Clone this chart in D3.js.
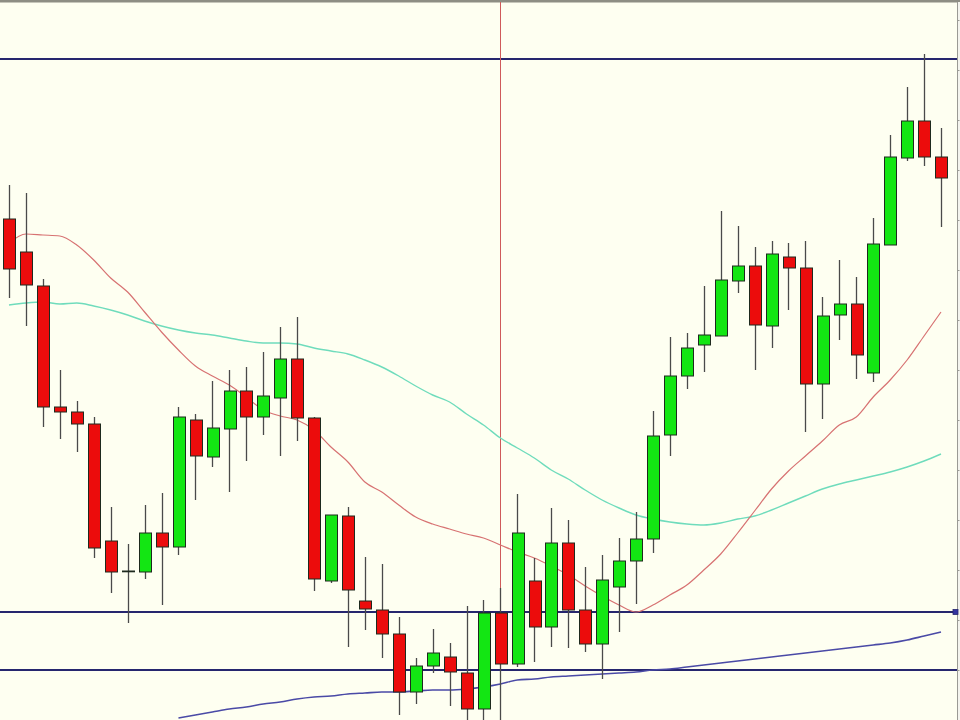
<!DOCTYPE html>
<html>
<head>
<meta charset="utf-8">
<script src="https://cdn.jsdelivr.net/npm/d3@7"></script>
<style>
html,body{margin:0;padding:0;background:#fefff1;}
svg{display:block;}
</style>
</head>
<body>
<svg id="chart" width="960" height="720"></svg>
<script>
// ---- data (price) ----
const open = [1.3501,1.3468,1.3434,1.3313,1.3308,1.3296,1.3179,1.3149,1.3148,1.3187,
  1.3173,1.3300,1.3263,1.3291,1.3329,1.3303,1.3322,1.3361,1.3302,1.3139,
  1.3204,1.3119,1.3110,1.3086,1.3028,1.3054,1.3063,1.3047,1.3011,1.3107,
  1.3056,1.3139,1.3093,1.3177,1.3110,1.3076,1.3133,1.3159,1.3181,1.3285,
  1.3344,1.3375,1.3384,1.3439,1.3454,1.3394,1.3463,1.3452,1.3336,1.3405,
  1.3416,1.3347,1.3475,1.3562,1.3599,1.3563];
const high = [1.3535,1.3527,1.3441,1.3350,1.3319,1.3303,1.3213,1.3176,1.3215,1.3227,
  1.3313,1.3306,1.3339,1.3350,1.3353,1.3368,1.3393,1.3403,1.3303,1.3205,
  1.3213,1.3163,1.3156,1.3103,1.3062,1.3091,1.3077,1.3114,1.3120,1.3132,
  1.3226,1.3162,1.3212,1.3200,1.3153,1.3165,1.3182,1.3208,1.3309,1.3383,
  1.3387,1.3434,1.3509,1.3494,1.3473,1.3479,1.3477,1.3479,1.3423,1.3460,
  1.3443,1.3502,1.3585,1.3633,1.3666,1.3592];
const low = [1.3422,1.3394,1.3293,1.3281,1.3268,1.3162,1.3127,1.3097,1.3141,1.3115,
  1.3165,1.3220,1.3253,1.3228,1.3259,1.3285,1.3264,1.3279,1.3129,1.3137,
  1.3073,1.3090,1.3062,1.3005,1.3016,1.3047,1.3014,1.2995,1.2995,1.2995,
  1.3053,1.3058,1.3073,1.3072,1.3068,1.3041,1.3088,1.3116,1.3167,1.3264,
  1.3331,1.3348,1.3384,1.3427,1.3350,1.3372,1.3410,1.3288,1.3301,1.3380,
  1.3341,1.3338,1.3475,1.3559,1.3554,1.3493];
const close = [1.3451,1.3435,1.3313,1.3308,1.3296,1.3172,1.3148,1.3149,1.3187,1.3173,
  1.3303,1.3264,1.3292,1.3329,1.3303,1.3324,1.3361,1.3302,1.3141,1.3205,
  1.3130,1.3111,1.3086,1.3028,1.3054,1.3067,1.3048,1.3011,1.3107,1.3056,
  1.3187,1.3093,1.3177,1.3110,1.3076,1.3140,1.3159,1.3181,1.3284,1.3344,
  1.3372,1.3385,1.3440,1.3454,1.3395,1.3466,1.3452,1.3336,1.3404,1.3416,
  1.3365,1.3476,1.3563,1.3599,1.3563,1.3542];

// moving averages
const maFast = [1.3477,1.3486,1.3485,1.3484,1.3475,1.3460,1.3442,1.3428,1.3408,1.3388,
  1.3370,1.3354,1.3344,1.3335,1.3323,1.3310,1.3304,1.3300,1.3290,1.3273,
  1.3258,1.3238,1.3228,1.3215,1.3203,1.3196,1.3191,1.3186,1.3182,1.3175,
  1.3168,1.3162,1.3154,1.3145,1.3134,1.3124,1.3115,1.3108,1.3115,1.3125,
  1.3135,1.3150,1.3166,1.3187,1.3209,1.3231,1.3249,1.3264,1.3279,1.3295,
  1.3303,1.3323,1.3340,1.3360,1.3384,1.3408];
const maMid = [1.3415,1.3417,1.3418,1.3416,1.3417,1.3414,1.3410,1.3405,1.3399,1.3394,
  1.3390,1.3387,1.3385,1.3382,1.3379,1.3377,1.3377,1.3376,1.3372,1.3369,
  1.3366,1.3360,1.3353,1.3344,1.3334,1.3325,1.3318,1.3306,1.3295,1.3282,
  1.3272,1.3262,1.3250,1.3241,1.3230,1.3220,1.3212,1.3205,1.3201,1.3198,
  1.3196,1.3195,1.3197,1.3201,1.3204,1.3210,1.3217,1.3224,1.3231,1.3236,
  1.3240,1.3244,1.3248,1.3253,1.3259,1.3266];
const maSlow = [null,null,null,null,null,null,null,null,null,null,
  1.3002,1.3005,1.3008,1.3011,1.3013,1.3016,1.3018,1.3021,1.3023,1.3024,
  1.3026,1.3027,1.3028,1.3028,1.3029,1.3030,1.3030,1.3031,1.3033,1.3036,
  1.3040,1.3041,1.3043,1.3044,1.3045,1.3046,1.3047,1.3048,1.3050,1.3051,
  1.3053,1.3055,1.3057,1.3059,1.3061,1.3063,1.3065,1.3067,1.3069,1.3071,
  1.3073,1.3075,1.3077,1.3080,1.3084,1.3088];

// horizontal price levels and the marked bar
const levels = [1.3661, 1.3108, 1.3050];
const markedBar = 29;

// ---- drawing ----
const W = 960, H = 720;
const svg = d3.select("#chart");
const bars = d3.range(open.length);

const step = 932 / 55;
const x = d3.scaleBand()
  .domain(bars)
  .range([9 - step / 2, 9 - step / 2 + step * bars.length])
  .paddingInner(0.32)
  .paddingOuter(0.16);
const cx = i => x(i) + x.bandwidth() / 2;

const y = d3.scaleLinear().domain([1.3720, 1.3000]).range([0, H]);

// background
svg.append("rect").attr("width", W).attr("height", H).attr("fill", "#fefff1");
// top strip
svg.append("rect").attr("x", 0).attr("y", 0).attr("width", W).attr("height", 2.5).attr("fill", "#8e8e84");
// right border of plot
svg.append("line").attr("x1", 957.5).attr("x2", 957.5).attr("y1", 2).attr("y2", H)
  .attr("stroke", "#9a9a94").attr("stroke-width", 1);
svg.append("rect").attr("x", 958).attr("y", 2).attr("width", 2).attr("height", H).attr("fill", "#f4f4ee");
// small ticks on the right edge
const yAxis = d3.axisRight(y).ticks(14).tickSize(2).tickFormat("");
svg.append("g").attr("transform", "translate(957.5,0)").call(yAxis)
  .call(g => g.select(".domain").remove())
  .call(g => g.selectAll("line").attr("stroke", "#9a9a94"));

// horizontal level lines
svg.append("g").selectAll("line").data(levels).join("line")
  .attr("x1", 0).attr("x2", 957)
  .attr("y1", d => y(d)).attr("y2", d => y(d))
  .attr("stroke", "#26266e").attr("stroke-width", 2.2);

// marker square at right end of middle level
svg.append("rect")
  .attr("x", 953).attr("y", y(levels[1]) - 2.5).attr("width", 5).attr("height", 5)
  .attr("fill", "#3434a0").attr("stroke", "#26266e").attr("stroke-width", 0.8);

// vertical marker line
svg.append("line")
  .attr("x1", Math.round(cx(markedBar)) + 0.5).attr("x2", Math.round(cx(markedBar)) + 0.5)
  .attr("y1", 2).attr("y2", H)
  .attr("stroke", "#cf5a5a").attr("stroke-width", 1);

// moving averages
const lineGen = arr => d3.line()
  .defined(i => arr[i] != null)
  .x(i => cx(i))
  .y(i => y(arr[i]))
  .curve(d3.curveMonotoneX)(bars);

svg.append("path").attr("d", lineGen(maSlow)).attr("fill", "none")
  .attr("stroke", "#4a4aa6").attr("stroke-width", 1.6);
svg.append("path").attr("d", lineGen(maMid)).attr("fill", "none")
  .attr("stroke", "#6fdcbc").attr("stroke-width", 1.4);
svg.append("path").attr("d", lineGen(maFast)).attr("fill", "none")
  .attr("stroke", "#d77272").attr("stroke-width", 1.2);

// candles
const g = svg.append("g");
const candle = g.selectAll("g.c").data(bars).join("g").attr("class", "c");

candle.append("line")
  .attr("x1", i => Math.round(cx(i)) + 0.5).attr("x2", i => Math.round(cx(i)) + 0.5)
  .attr("y1", i => y(high[i])).attr("y2", i => y(low[i]))
  .attr("stroke", "#4a4a4a").attr("stroke-width", 1.3);

candle.append("rect")
  .attr("x", i => Math.round(x(i)) + 0.5)
  .attr("width", Math.round(x.bandwidth()))
  .attr("y", i => y(Math.max(open[i], close[i])))
  .attr("height", i => Math.max(0.8, Math.abs(y(open[i]) - y(close[i]))))
  .attr("fill", i => close[i] > open[i] ? "#13e613" : (close[i] < open[i] ? "#ec0c0c" : "#333"))
  .attr("stroke", "#1e2a1e").attr("stroke-width", 1);
</script>
</body>
</html>
